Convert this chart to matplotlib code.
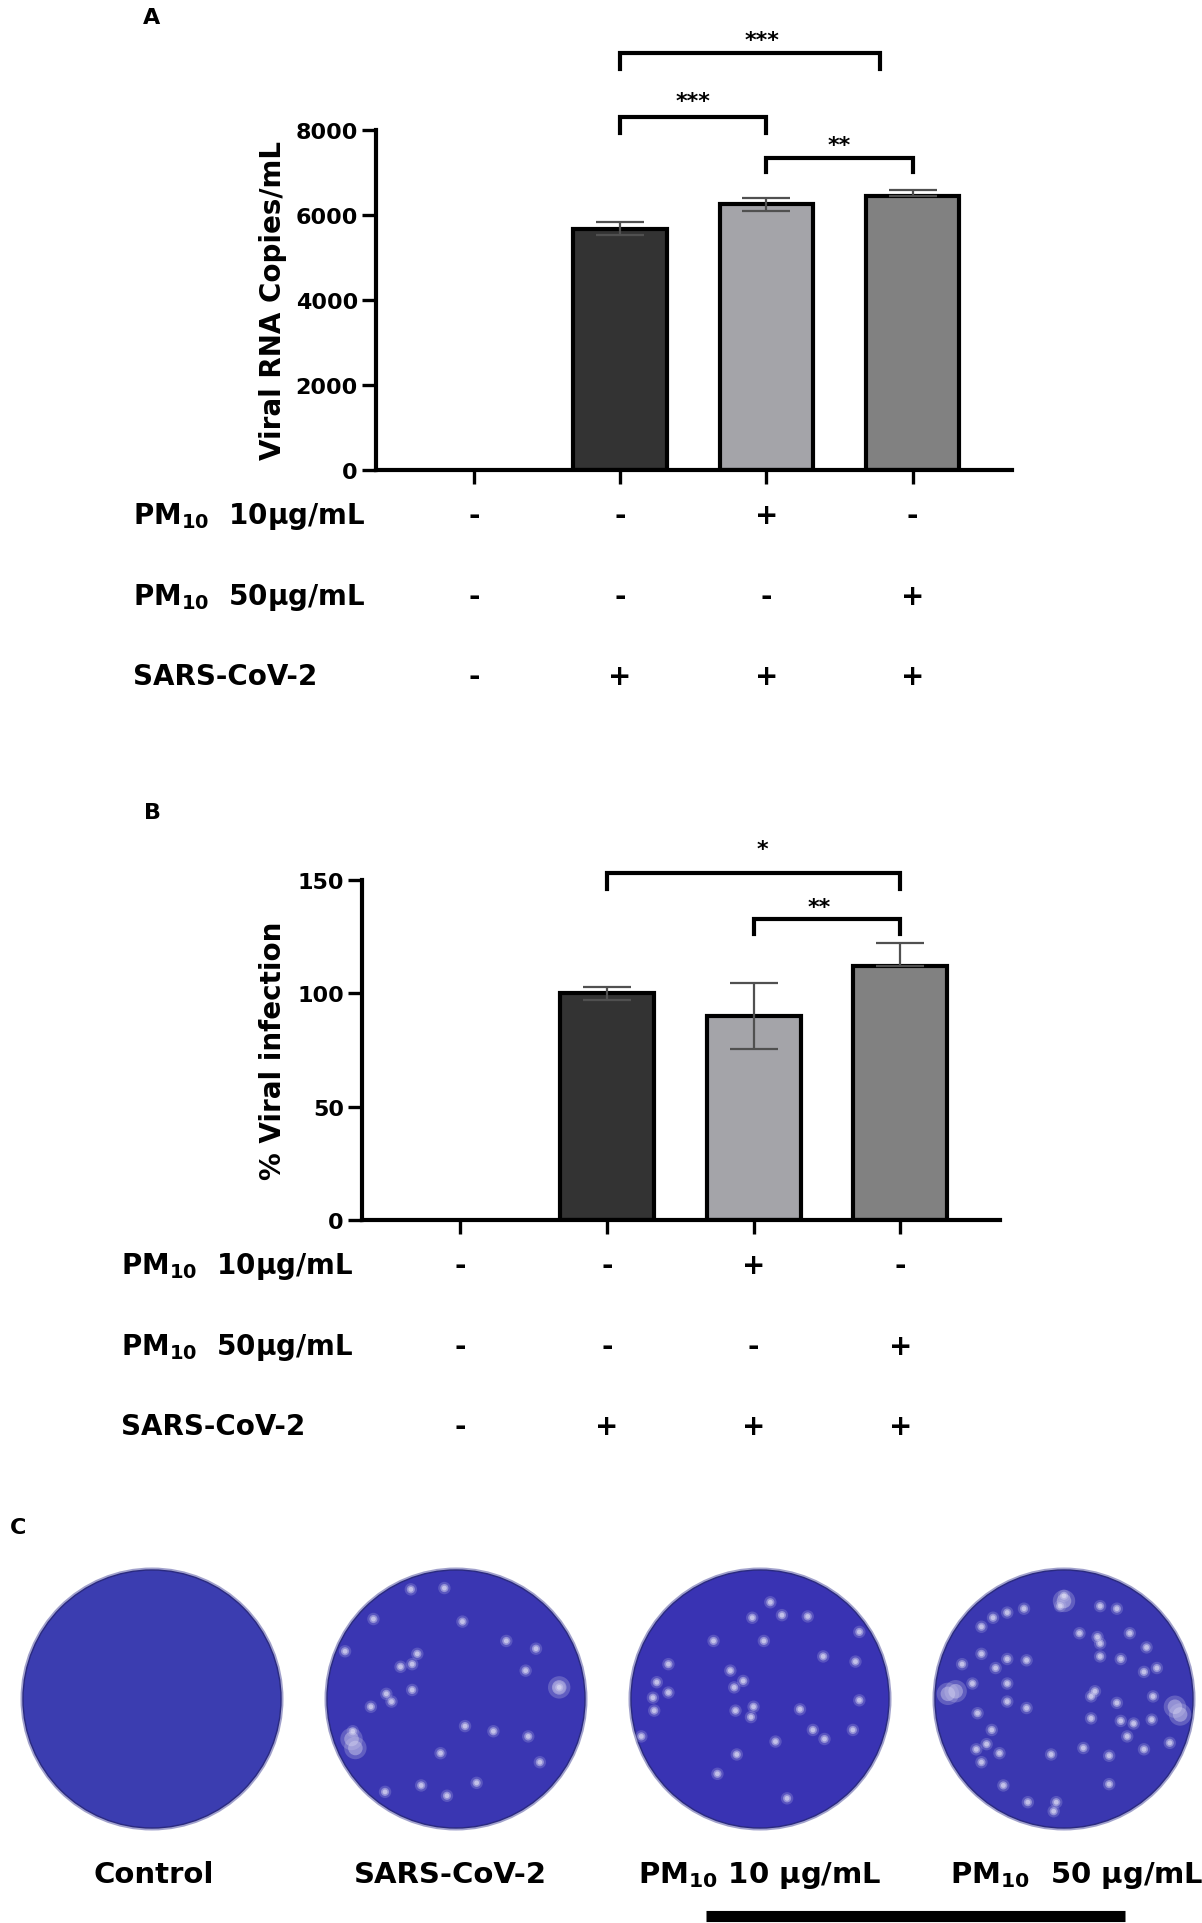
import numpy as np
import matplotlib.pyplot as plt
from matplotlib.patches import Circle
from matplotlib import transforms

plt.rcParams['font.family'] = ['DejaVu Sans']
plt.rcParams['font.weight'] = 'bold'
plt.rcParams['mathtext.fontset'] = 'dejavusans'
plt.rcParams['mathtext.default'] = 'bf'

#-------------- Macros --------------
W = 1202
H = 1924
DPI = 100
#------------------------------------

#-------------- Data ----------------
groups = ['Control', 'SARS-CoV-2', 'PM10 10', 'PM10 50']
bar_colors = ['#333333', '#a4a4a9', '#818181']

rna_mean = [0, 5680, 6250, 6440]
rna_err_lo = [0, 150, 160, 0]
rna_err_hi = [0, 150, 160, 140]
inf_mean = [0, 100, 90, 112]
inf_err_lo = [0, 3, 14.5, 0]
inf_err_hi = [0, 3, 14.5, 10]

row_labels = [r'$PM_{10}$  10µg/mL', r'$PM_{10}$  50µg/mL', 'SARS-CoV-2']
pm10_10 = ['-', '-', '+', '-']
pm10_50 = ['-', '-', '-', '+']
sars = ['-', '+', '+', '+']

# (x1, x2, y, drop, stars, star_x, star_y)
rna_sig = [(1, 2.78, 9805, 360, '***', 1.97, 10268),
           (1, 2, 8310, 370, '***', 1.50, 8824),
           (2, 3, 7348, 340, '**', 2.50, 7805)]
inf_sig = [(1, 3, 153, 7, '*', 2.06, 166.4),
           (2, 3, 133, 7, '**', 2.45, 141)]

plate_labels = ['Control', 'SARS-CoV-2', r'$PM_{10}$ 10 µg/mL', r'$PM_{10}$  50 µg/mL']

# plaque positions, relative to plate centre (unit = plate radius, y down)
plaques_ctrl = []
plaques_sars = [(-0.09, -0.86), (-0.35, -0.85), (0.05, -0.60), (-0.64, -0.62), (0.39, -0.45),
                (0.62, -0.39), (-0.30, -0.35), (-0.43, -0.25), (-0.34, -0.27), (0.54, -0.22),
                (0.80, -0.09), (-0.34, -0.07), (-0.54, -0.04), (-0.50, 0.02), (-0.66, 0.06),
                (-0.80, 0.25), (0.07, 0.21), (0.29, 0.25), (0.56, 0.29), (-0.12, 0.42),
                (0.65, 0.49), (0.16, 0.65), (-0.27, 0.67), (-0.07, 0.75), (-0.55, 0.72),
                (-0.86, -0.37)]
big_sars = [(-0.81, 0.31), (-0.78, 0.38), (0.80, -0.09)]
plaques_pm10 = [(0.08, -0.75), (-0.06, -0.63), (0.17, -0.65), (0.37, -0.64), (0.03, -0.45),
                (-0.36, -0.45), (0.49, -0.33), (0.74, -0.29), (-0.71, -0.27), (-0.23, -0.22),
                (-0.13, -0.14), (-0.20, -0.09), (-0.80, -0.13), (-0.71, -0.05), (0.77, 0.01),
                (-0.19, 0.09), (-0.05, 0.06), (-0.07, 0.14), (0.31, 0.08), (-0.82, 0.09),
                (-0.92, 0.29), (0.41, 0.24), (0.50, 0.31), (0.12, 0.33), (0.72, 0.24),
                (-0.18, 0.43), (-0.33, 0.58), (0.21, 0.77), (0.77, -0.52), (-0.83, -0.01)]
big_pm10 = []
plaques_pm50 = [(0.00, -0.80), (-0.03, -0.72), (0.28, -0.72), (-0.31, -0.70), (-0.44, -0.67),
                (-0.55, -0.63), (-0.64, -0.56), (0.12, -0.51), (0.26, -0.48), (0.28, -0.43),
                (0.51, -0.51), (0.64, -0.40), (-0.64, -0.35), (-0.79, -0.27), (-0.53, -0.24),
                (-0.29, -0.30), (-0.44, -0.31), (0.28, -0.33), (0.44, -0.31), (0.72, -0.24),
                (0.62, -0.21), (-0.71, -0.12), (-0.44, -0.12), (0.24, -0.06), (0.21, -0.02),
                (0.41, 0.03), (0.69, -0.02), (-0.44, 0.02), (-0.29, 0.07), (-0.67, 0.11),
                (0.21, 0.15), (0.44, 0.17), (0.54, 0.19), (0.49, 0.29), (-0.56, 0.24),
                (-0.60, 0.35), (-0.68, 0.39), (-0.50, 0.42), (-0.10, 0.43), (0.15, 0.38),
                (0.35, 0.44), (0.62, 0.39), (0.82, 0.34), (-0.64, 0.49), (-0.47, 0.67),
                (0.35, 0.66), (-0.28, 0.80), (-0.06, 0.80), (-0.08, 0.87), (0.68, 0.16),
                (0.41, -0.70)]
big_pm50 = [(-0.90, -0.04), (-0.84, -0.06), (0.86, 0.06), (0.90, 0.12), (0.00, -0.76)]
plaques = [plaques_ctrl, plaques_sars, plaques_pm10, plaques_pm50]
big_plaques = [[], big_sars, big_pm10, big_pm50]
#------------------------------------


fig = plt.figure(figsize=(W / DPI, H / DPI), dpi=DPI)


def px_box(left, top, width, height):
    return [left / W, 1 - (top + height) / H, width / W, height / H]


def draw_panel(ax, means, err_lo, err_hi, ymax, yticks, sig, ylabel, label_x):
    x = np.arange(len(groups))
    ax.bar(x[1:], means[1:], width=0.64, color=bar_colors, edgecolor='black',
           linewidth=3, zorder=2)
    ax.errorbar(x[1:], means[1:], yerr=[err_lo[1:], err_hi[1:]], fmt='none',
                ecolor='#505050', elinewidth=1.6, capsize=17, capthick=1.6, zorder=3)
    ax.set_xlim(-0.67, 3.68)
    ax.set_ylim(0, ymax)
    ax.set_xticks(x)
    ax.set_xticklabels([])
    ax.set_yticks(yticks)
    for s in ['top', 'right']:
        ax.spines[s].set_visible(False)
    for s in ['left', 'bottom']:
        ax.spines[s].set_linewidth(3)
    ax.tick_params(axis='both', width=2.4, length=10, labelsize=16, pad=3)
    for lab in ax.get_yticklabels():
        lab.set_fontweight('bold')
    ax.text(label_x, 0.5, ylabel, transform=ax.transAxes, rotation=90,
            ha='center', va='center', fontsize=20, fontweight='bold')
    for x1, x2, yb, drop, stars, sx, sy in sig:
        ax.plot([x1, x1, x2, x2], [yb - drop, yb, yb, yb - drop], color='black',
                lw=3, clip_on=False, solid_joinstyle='miter', zorder=4)
        ax.annotate(stars, (sx, sy), xytext=(0, -8.8), textcoords='offset points',
                    ha='center', va='baseline', fontsize=16, fontweight='bold',
                    annotation_clip=False)


def draw_rows(ax, label_left, row_centers):
    trans = transforms.blended_transform_factory(ax.transData, fig.transFigure)
    for lab, marks, yc in zip(row_labels, [pm10_10, pm10_50, sars], row_centers):
        yb = 1 - (yc + 10) / H
        fig.text(label_left / W, yb, lab, ha='left', va='baseline',
                 fontsize=20, fontweight='bold')
        for i, m in enumerate(marks):
            ax.text(i, yb, m, transform=trans, ha='center', va='baseline',
                    fontsize=20, fontweight='bold')


#---------------- Panel A ----------------
axA = fig.add_axes(px_box(376, 131, 636, 340))
draw_panel(axA, rna_mean, rna_err_lo, rna_err_hi, 8000, [0, 2000, 4000, 6000, 8000],
           rna_sig, 'Viral RNA Copies/mL', -0.162)
draw_rows(axA, 133, [514, 595, 675])
fig.text(152 / W, 1 - 18 / H, 'A', ha='center', va='center', fontsize=16, fontweight='bold')

#---------------- Panel B ----------------
axB = fig.add_axes(px_box(362, 881, 638, 340))
draw_panel(axB, inf_mean, inf_err_lo, inf_err_hi, 150, [0, 50, 100, 150],
           inf_sig, '% Viral infection', -0.1395)
draw_rows(axB, 121, [1264, 1345, 1425])
fig.text(152 / W, 1 - 813 / H, 'B', ha='center', va='center', fontsize=16, fontweight='bold')

#---------------- Panel C ----------------
axC = fig.add_axes(px_box(0, 1540, W, H - 1540))
axC.set_xlim(0, W)
axC.set_ylim(H, 1540)
axC.axis('off')

plate_x = [152, 456, 760, 1064]
plate_y = 1700
plate_r = 129
plate_colors = ['#3b3db0', '#3a36b2', '#3933b3', '#3a37b0']

for i in range(4):
    cx = plate_x[i]
    axC.add_patch(Circle((cx, plate_y), plate_r + 2.5, fc='#44449a', ec='none', alpha=0.5))
    axC.add_patch(Circle((cx, plate_y), plate_r, fc=plate_colors[i], ec='#2a2a80', lw=1.0))
    if plaques[i]:
        p = np.array(plaques[i])
        px = cx + p[:, 0] * plate_r
        py = plate_y + p[:, 1] * plate_r
        axC.scatter(px, py, s=80, color='#b9b7e6', alpha=0.25, edgecolors='none', zorder=3)
        axC.scatter(px, py, s=34, color='#cdcbee', alpha=0.5, edgecolors='none', zorder=4)
        axC.scatter(px, py, s=12, color='#e2e1f5', alpha=0.6, edgecolors='none', zorder=5)
    if big_plaques[i]:
        b = np.array(big_plaques[i])
        bx = cx + b[:, 0] * plate_r
        by = plate_y + b[:, 1] * plate_r
        axC.scatter(bx, by, s=260, color='#bdbbe4', alpha=0.3, edgecolors='none', zorder=3)
        axC.scatter(bx, by, s=110, color='#d2d0ee', alpha=0.45, edgecolors='none', zorder=4)

label_x = [154, 450, 760, 1077]
for lx, lab in zip(label_x, plate_labels):
    axC.text(lx, 1883, lab, ha='center', va='baseline', fontsize=21, fontweight='bold')

axC.plot([706, 1125], [1917, 1917], color='black', lw=8, solid_capstyle='butt', clip_on=False)
fig.text(10 / W, 1 - 1528 / H, 'C', ha='left', va='center', fontsize=16, fontweight='bold')

fig.savefig('out.png', dpi=DPI)
